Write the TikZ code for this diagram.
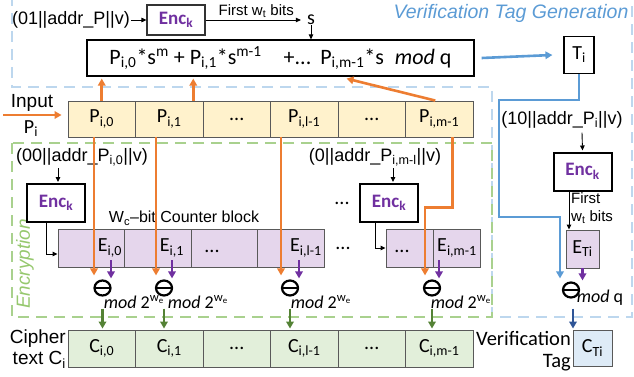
\documentclass[tikz,border=0pt]{standalone}
\usepackage{fontspec}
\setmainfont{Carlito}
\newfontfamily\arialf{Liberation Sans}
\usetikzlibrary{arrows.meta,calc,shapes.geometric}
\definecolor{cOrange}{RGB}{237,125,49}
\definecolor{cBlue}{RGB}{91,155,213}
\definecolor{cDBlue}{RGB}{47,85,151}
\definecolor{cPurple}{RGB}{112,48,160}
\definecolor{cGreenA}{RGB}{84,130,53}
\definecolor{cYellow}{RGB}{255,242,204}
\definecolor{cLav}{RGB}{229,214,236}
\definecolor{cMint}{RGB}{226,239,218}
\definecolor{cSky}{RGB}{222,235,247}
\definecolor{cDashB}{RGB}{189,215,238}
\definecolor{cDashG}{RGB}{169,209,142}
\definecolor{cEncT}{RGB}{150,200,110}
\newcommand\enck{Enc\textsubscript{k}}
\begin{document}
\begin{tikzpicture}[x=1pt,y=-1pt,
  txt/.style={inner sep=1pt, font=\arialf\fontsize{18}{21}\selectfont},
  smalltxt/.style={inner sep=1pt, font=\arialf\fontsize{15}{18}\selectfont},
  cellfont/.style={inner sep=0pt, font=\fontsize{20}{24}\selectfont},
  cell/.style={draw=black!65, line width=0.9pt, minimum height=36pt, inner sep=0pt, font=\fontsize{20}{24}\selectfont},
  pcell/.style={cell, fill=cYellow, minimum width=67.5pt},
  ccell/.style={cell, fill=cMint, minimum width=67.5pt, minimum height=37pt},
  ecell/.style={cell, fill=cLav, minimum height=38pt},
  enc/.style={draw=black, line width=2pt, fill=white, minimum width=58pt, minimum height=38pt, inner sep=0pt, font=\fontsize{19}{22}\selectfont\bfseries, text=cPurple},
  encthin/.style={enc, line width=1.1pt, draw=black!80, minimum height=30pt},
  ominus/.style={ellipse, draw=black, line width=2.2pt, minimum width=16pt, minimum height=15pt, inner sep=0pt,
     path picture={\draw[line width=2.2pt] (path picture bounding box.west) -- (path picture bounding box.east);}},
  modtxt/.style={inner sep=0pt, font=\fontsize{18}{21}\selectfont},
  thinarr/.style={draw=black, line width=0.9pt, -{Triangle[length=5pt,width=4.5pt]}},
  fat/.style={line width=2.6pt, -{Triangle[length=7pt,width=7.5pt]}},
  oarr/.style={fat, draw=cOrange},
  parr/.style={fat, draw=cPurple},
  garr/.style={fat, draw=cGreenA},
  barr/.style={fat, draw=cBlue},
  dbarr/.style={fat, draw=cDBlue},
  bdash/.style={draw=cDashB, line width=2.6pt, dash pattern=on 11pt off 7pt},
  gdash/.style={draw=cDashG, line width=2.6pt, dash pattern=on 11pt off 7pt}
]
\useasboundingbox (0,0) rectangle (634,377);

% regions
\draw[bdash] (12,-5) -- (12,87) -- (492,87) -- (492,317) -- (632,317) -- (632,-5);
\draw[gdash] (12,143) rectangle (492,317);
\node[inner sep=0pt, text=cBlue, font=\arialf\itshape\fontsize{19.5}{22}\selectfont] (vtg) at (511,13) {Verification Tag Generation};
\node[inner sep=0pt, text=cEncT, rotate=90, font=\arialf\itshape\fontsize{19}{22}\selectfont] (encr) at (25,264) {Encryption};

% top part
\node[txt, anchor=east] (lab01) at (131,20) {(01||addr\_P||v)};
\node[encthin] (encT) at (176,20) {\enck};
\node[cellfont] (s) at (311,20) {s};
\node[inner sep=0pt, font=\fontsize{22}{26}\selectfont, draw=black, line width=1.2pt, minimum width=387pt, minimum height=36pt] (F) at (280.5,58)
 {P\textsubscript{i,0}*s\textsuperscript{m} + P\textsubscript{i,1}*s\textsuperscript{m-1}\hspace{22pt}+...\hspace{9pt}P\textsubscript{i,m-1}*s\hspace{11pt}\textit{mod} q};
\node[cellfont, draw=black, line width=1.2pt, minimum width=30pt, minimum height=37pt] (T) at (579,55) {T\textsubscript{i}};
\draw[thinarr] (lab01) -- (encT);
\draw[thinarr, shorten >=6pt] (encT) -- node[smalltxt, above=1pt] (fwt) {First w\textsubscript{t} bits} (s);
\draw[thinarr] (s) -- (s |- F.north);
\draw[barr] ([xshift=7pt]F.east) -- ([xshift=-11pt]T.west);

% input row
\node[txt, font=\arialf\fontsize{19}{22}\selectfont] (inp) at (32,103) {Input};
\node[cellfont] (pi) at (31,129) {P\textsubscript{i}};
\node[pcell] (p0) at (101.75,119) {P\textsubscript{i,0}};
\node[pcell] (p1) at (169.25,119) {P\textsubscript{i,1}};
\node[pcell] (p2) at (236.75,119) {...};
\node[pcell] (p3) at (304.25,119) {P\textsubscript{i,l-1}};
\node[pcell] (p4) at (371.75,119) {...};
\node[pcell] (p5) at (439.25,119) {P\textsubscript{i,m-1}};
\coordinate (inS) at (3,115);
\draw[oarr] (inS) -- ([xshift=-6pt]p0.west |- inS);

% orange to formula
\draw[oarr] (p0.north) -- ([yshift=-2pt]p0.north |- F.south);
\draw[oarr] ($(p1.north)+(24,0)$) -- ($(p1.north |- F.south)+(24,2)$);
\draw[oarr] ($(p5.north)+(-4,0)$) -- ($(F.south)+(66,2)$);

% encryption inputs
\node[txt] (lab00) at (82,157) {(00||addr\_P\textsubscript{i,0}||v)};
\node[txt] (lab0m) at (375,157) {(0||addr\_P\textsubscript{i,m-l}||v)};
\node[enc] (encL) at (56,203) {\enck};
\node[enc] (encR) at (389,203) {\enck};
\node[cellfont] (d1) at (342,203) {...};
\draw[thinarr] ($(lab00.south)+(-24,1)$) -- ($(encL.north)+(2,-1)$);
\draw[thinarr] ($(lab0m.south)+(18,1)$) -- ($(encR.north)+(4,-1)$);
\node[smalltxt, font=\arialf\fontsize{16}{19}\selectfont] (cnt) at (184,218) {W\textsubscript{c}–bit Counter block};

% E row
\node[ecell, minimum width=66.5pt] (e0) at (91.25,248) {};
\node[ecell, minimum width=66.5pt] (e1) at (157.75,248) {};
\node[ecell, minimum width=66.5pt] (e2) at (224.25,248) {};
\node[ecell, minimum width=66.5pt] (e3) at (290.75,248) {};
\node[ecell, minimum width=47pt] (e4) at (409.5,248) {};
\node[ecell, minimum width=47pt] (e5) at (456.5,248) {};
\node[cellfont] (le0) at (110,248) {E\textsubscript{i,0}};
\node[cellfont] (le1) at (172,248) {E\textsubscript{i,1}};
\node[cellfont] (le2) at (212,251) {...};
\node[cellfont] (le3) at (306,248) {E\textsubscript{i,l-1}};
\node[cellfont] (le4) at (402,251) {...};
\node[cellfont] (le5) at (457,248) {E\textsubscript{i,m-1}};
\node[cellfont] (d2) at (343,248) {...};
\draw[thinarr] ([xshift=-10pt]encL.south) |- ([yshift=-6pt]e0.west);
\draw[thinarr] ([xshift=-14pt]encR.south) |- (e4.west);

% verification side
\node[txt] (lab10) at (562,120) {(10||addr\_P\textsubscript{i}||v)};
\node[enc] (encV) at (582.5,171.5) {\enck};
\node[ecell, minimum width=33pt] (ETi) at (582.5,249) {E\textsubscript{Ti}};
\draw[thinarr] ($(lab10.south)+(20,3)$) -- ($(encV.north)+(0,-1)$);
\draw[thinarr] ([xshift=-13.5pt]encV.south) -- ([xshift=-13.5pt]encV.south |- ETi.north);
\node[smalltxt, anchor=north west, align=left] (fw2) at (570,191) {First\\w\textsubscript{t} bits};

% ominus
\node[ominus] (o0) at (102.5,288) {};
\node[ominus] (o1) at (164,288) {};
\node[ominus] (o2) at (290,288) {};
\node[ominus] (o3) at (432,288) {};
\node[ominus] (o5) at (571,290) {};
\coordinate (o0L) at ($(o0.north)+(-8.5,-4)$);
\coordinate (o1L) at ($(o1.north)+(-8,-4)$);
\coordinate (o2L) at ($(o2.north)+(-9,-4)$);
\coordinate (o3L) at ($(o3.north)+(-7,-4)$);

% orange down
\draw[oarr] (o0L |- p0.south) -- (o0L);
\draw[oarr] (o1L |- p1.south) -- (o1L);
\draw[oarr] (o2L |- p3.south) -- (o2L);
\draw[oarr] ($(p5.south)+(13,0)$) -- ++(0,70) -| (o3L);

% blue path
\draw[barr] (T.south) |- (499,100) -- (499,217) -| ($(o5.north)+(-11,-3)$);

% purple
\draw[parr] ($(o0.north)+(8.5,-19)$) -- ($(o0.north)+(8.5,-1)$);
\draw[parr] ($(o1.north)+(8,-19)$) -- ($(o1.north)+(8,-1)$);
\draw[parr] ($(o2.north)+(9,-19)$) -- ($(o2.north)+(9,-1)$);
\draw[parr] ($(o3.north)+(7,-19)$) -- ($(o3.north)+(7,-1)$);
\draw[parr] (ETi.south) -- ($(o5.north)+(11.5,-1)$);

% mod labels
\node[modtxt] (m0) at (134,302) {\textit{mod} 2\textsuperscript{w\textsubscript{e}}};
\node[modtxt] (m1) at (198,302) {\textit{mod} 2\textsuperscript{w\textsubscript{e}}};
\node[modtxt] (m2) at (321,302) {\textit{mod} 2\textsuperscript{w\textsubscript{e}}};
\node[modtxt] (m3) at (461,302) {\textit{mod} 2\textsuperscript{w\textsubscript{e}}};
\node[modtxt] (mq) at (600,298) {\textit{mod} q};

% cipher row
\node[txt, anchor=east, align=right, font=\arialf\fontsize{19}{21}\selectfont] (ctx) at (67,349) {Cipher\\text C\textsubscript{i}};
\node[ccell] (c0) at (101.75,348.5) {C\textsubscript{i,0}};
\node[ccell] (c1) at (169.25,348.5) {C\textsubscript{i,1}};
\node[ccell] (c2) at (236.75,348.5) {...};
\node[ccell] (c3) at (304.25,348.5) {C\textsubscript{i,l-1}};
\node[ccell] (c4) at (371.75,348.5) {...};
\node[ccell] (c5) at (439.25,348.5) {C\textsubscript{i,m-1}};
\node[cell, fill=cSky, minimum width=39pt] (CT) at (592.5,348) {C\textsubscript{Ti}};
\node[inner sep=0pt, anchor=east, align=right, font=\fontsize{20.5}{22}\selectfont] (vt) at (571,351) {Verification\\Tag};

% green arrows
\draw[garr] ($(o0.south)+(0,12)$) -- ($(o0.south |- c0.north)+(0,-1)$);
\draw[garr] ($(o1.south)+(0,12)$) -- ($(o1.south |- c1.north)+(0,-1)$);
\draw[garr] ($(o2.south)+(0,12)$) -- ($(o2.south |- c3.north)+(0,-1)$);
\draw[garr] ($(o3.south)+(0,12)$) -- ($(o3.south |- c5.north)+(0,-1)$);
\draw[dbarr] ($(o5.south)+(2,10)$) -- ($(o5.south |- CT.north)+(2,-1)$);
\end{tikzpicture}
\end{document}
